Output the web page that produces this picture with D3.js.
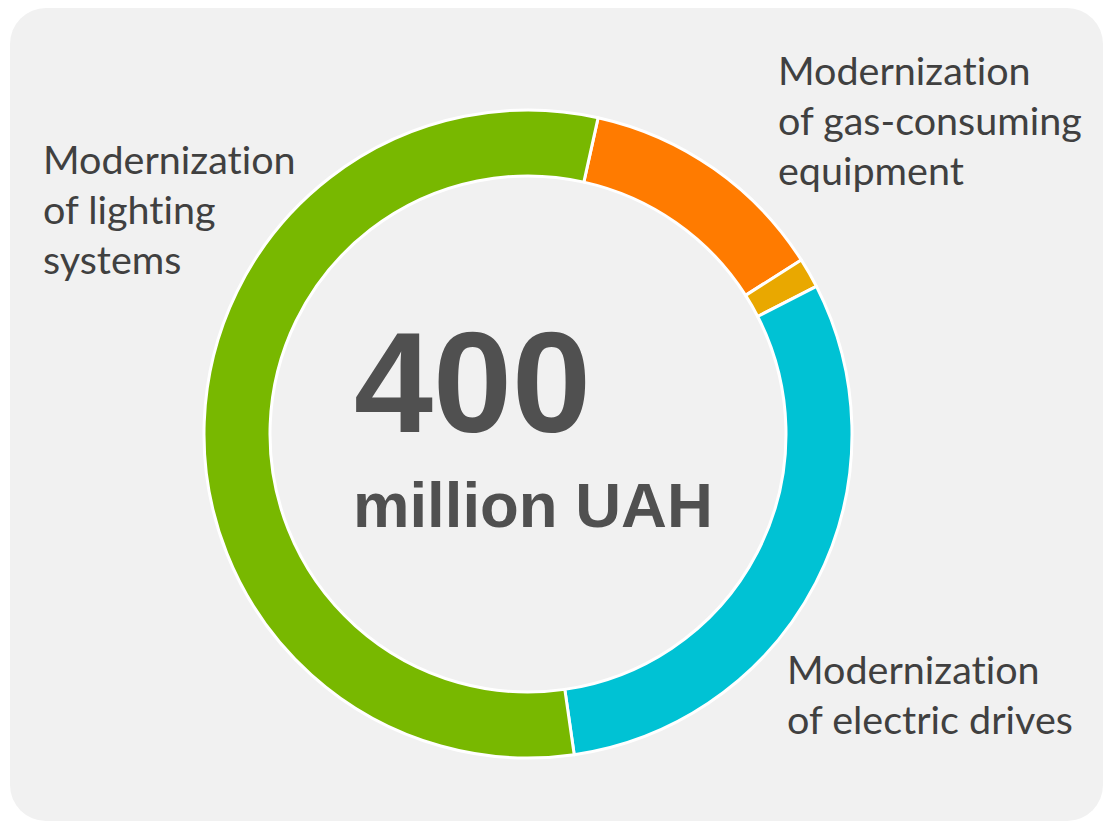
<!DOCTYPE html>
<html>
<head>
<meta charset="utf-8">
<script src="https://cdn.jsdelivr.net/npm/d3@7"></script>
<style>
  html, body { margin: 0; padding: 0; background: #ffffff; }
  svg { display: block; }
  text { font-variant-ligatures: none; font-feature-settings: "liga" 0, "clig" 0; }
</style>
</head>
<body>
<svg id="chart" width="1105" height="823"></svg>
<script>
// Data (million UAH), in clockwise order starting from the top-right
const categories = ["Modernization of gas-consuming equipment", "Other", "Modernization of electric drives", "Modernization of lighting systems"];
const values = [50, 6, 121, 223];
const colors = ["#ff7b00", "#e9a800", "#00c2d4", "#78b800"];
const totalLabel = "400";
const unitLabel = "million UAH";
const labelLines = [
  ["Modernization", "of gas-consuming", "equipment"],
  [],
  ["Modernization", "of electric drives"],
  ["Modernization", "of lighting", "systems"]
];

const svg = d3.select("#chart");

// Card background
svg.append("rect")
  .attr("x", 10).attr("y", 8)
  .attr("width", 1093).attr("height", 813)
  .attr("rx", 36).attr("ry", 36)
  .attr("fill", "#f1f1f1");

const cx = 528, cy = 434;
const outerR = 324, innerR = 258;
const startDeg = 12.5;

const pie = d3.pie().sort(null).value(d => d)
  .startAngle(startDeg * Math.PI / 180)
  .endAngle((startDeg + 360) * Math.PI / 180);

const arc = d3.arc().innerRadius(innerR).outerRadius(outerR);

const g = svg.append("g").attr("transform", `translate(${cx},${cy})`);
g.selectAll("path.slice")
  .data(pie(values))
  .join("path")
  .attr("class", "slice")
  .attr("d", arc)
  .attr("fill", (d, i) => colors[i])
  .attr("stroke", "#ffffff")
  .attr("stroke-width", 3)
  .attr("stroke-linejoin", "round");

// Center text
g.append("text")
  .attr("x", -174).attr("y", -2)
  .attr("font-family", "'Liberation Sans', Arial, sans-serif")
  .attr("font-weight", "bold")
  .attr("font-size", 142)
  .attr("fill", "#505050")
  .text(totalLabel);

g.append("text")
  .attr("x", -175).attr("y", 93)
  .attr("font-family", "'Liberation Sans', Arial, sans-serif")
  .attr("font-weight", "bold")
  .attr("font-size", 63.5)
  .attr("fill", "#505050")
  .text(unitLabel);

// Category labels
const labelPos = [
  {x: 778, y: 85},
  null,
  {x: 787, y: 684},
  {x: 43, y: 174}
];
const lineH = 50;
labelLines.forEach((lines, i) => {
  const p = labelPos[i];
  if (!p || !lines.length) return;
  const t = svg.append("text")
    .attr("font-family", "Lato, 'Open Sans', sans-serif")
    .attr("font-size", 39.5)
    .attr("fill", "#404040");
  lines.forEach((ln, j) => {
    t.append("tspan").attr("x", p.x).attr("y", p.y + j * lineH).text(ln);
  });
});
</script>
</body>
</html>
